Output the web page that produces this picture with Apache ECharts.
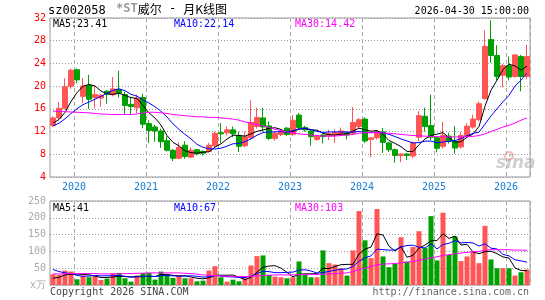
<!DOCTYPE html>
<html><head><meta charset="utf-8">
<script src="https://cdn.jsdelivr.net/npm/echarts@6/dist/echarts.min.js"></script>
<style>html,body{margin:0;padding:0;background:#fff}#c{width:545px;height:300px}</style>
</head><body><div id="c"></div>
<script>
const months = ['2019-09','2019-10','2019-11','2019-12',
'2020-01','2020-02','2020-03','2020-04','2020-05','2020-06','2020-07','2020-08','2020-09','2020-10','2020-11','2020-12',
'2021-01','2021-02','2021-03','2021-04','2021-05','2021-06','2021-07','2021-08','2021-09','2021-10','2021-11','2021-12',
'2022-01','2022-02','2022-03','2022-04','2022-05','2022-06','2022-07','2022-08','2022-09','2022-10','2022-11','2022-12',
'2023-01','2023-02','2023-03','2023-04','2023-05','2023-06','2023-07','2023-08','2023-09','2023-10','2023-11','2023-12',
'2024-01','2024-02','2024-03','2024-04','2024-05','2024-06','2024-07','2024-08','2024-09','2024-10','2024-11','2024-12',
'2025-01','2025-02','2025-03','2025-04','2025-05','2025-06','2025-07','2025-08','2025-09','2025-10','2025-11','2025-12',
'2026-01','2026-02','2026-03','2026-04'];
const opens  = [13.1,14.4,16.1,20.0,22.9,18.2,20.1,18.0,17.9,19.1,18.5,19.4,18.5,16.8,16.2,18.0,
13.4,12.8,12.1,10.4,8.7,7.3,9.6,7.5,8.8,8.5,8.5,9.5,11.8,11.8,12.3,11.2,9.5,10.9,12.9,14.4,13.0,10.8,11.5,12.6,
11.5,14.9,12.7,12.1,10.6,11.4,11.2,11.4,11.5,11.8,11.7,12.9,14.2,10.6,10.9,11.95,10.0,8.8,7.8,8.05,
7.7,11.0,14.7,13.05,10.9,9.4,11.2,10.3,9.3,11.2,12.8,14.1,17.8,28.2,25.4,21.9,23.6,21.7,25.2,21.7];
const closes = [14.4,16.1,19.9,22.8,21.1,20.0,17.7,18.5,18.4,18.6,19.5,18.8,16.6,16.4,17.9,13.3,
12.2,12.1,10.2,8.7,7.3,9.2,7.6,8.7,8.1,8.2,9.6,11.7,11.6,12.3,11.6,9.4,11.1,13.6,14.5,12.8,10.8,11.7,12.1,11.5,
14.0,12.7,12.3,11.1,11.2,11.1,11.6,11.8,12.1,11.4,13.6,14.1,10.35,10.9,12.0,10.1,8.8,7.8,8.05,7.8,
10.0,14.8,12.9,11.0,9.05,11.3,10.3,9.1,11.3,12.95,14.2,16.9,27.0,25.4,21.7,23.6,21.6,25.5,21.7,25.2];
const lows   = [12.8,14.1,15.9,19.5,20.5,17.0,16.0,16.1,16.4,16.9,18.2,18.0,15.0,15.0,15.2,12.6,
10.0,10.2,9.1,8.5,6.8,7.1,7.2,7.3,7.8,7.8,8.3,9.3,10.0,11.3,11.0,8.4,9.2,10.6,12.5,12.0,10.5,10.4,11.2,11.2,
11.2,12.3,12.0,9.5,10.4,9.9,10.5,10.0,11.2,10.6,11.4,12.5,10.0,7.5,10.6,8.25,8.4,6.5,6.6,7.0,
7.3,10.3,12.0,10.5,8.35,9.0,9.9,8.1,9.0,10.9,12.5,13.8,17.6,24.1,21.0,19.8,21.0,21.5,19.1,21.2];
const highs  = [14.7,17.2,21.4,23.1,23.1,21.4,22.0,20.1,18.6,19.3,21.6,22.7,19.0,18.0,18.5,18.6,
14.0,13.2,12.5,11.2,8.9,10.1,10.3,9.2,8.9,8.7,10.0,12.0,13.5,12.9,12.9,12.0,12.0,17.5,16.2,16.2,13.8,12.1,12.4,12.8,
14.9,15.3,13.0,12.3,11.4,11.6,12.3,12.4,12.7,12.0,16.3,14.4,14.5,11.0,12.1,12.6,10.2,9.0,8.2,8.2,
10.3,15.6,16.2,18.5,11.2,13.7,11.8,12.95,11.9,13.5,15.0,17.3,29.8,31.6,27.2,23.9,25.2,25.6,25.5,27.3];
const volumes = [32,30,43,40,17,28,23,27,15,19,35,36,20,10,28,36,
36,16,40,30,21,28,20,20,11,13,43,56,23,10,16,11,20,58,86,88,30,25,23,20,
23,70,30,23,23,103,65,61,50,28,103,220,133,80,226,85,53,63,142,70,
113,160,110,205,73,215,90,145,71,85,100,65,176,76,50,50,50,28,38,46];
// closes / volumes of the 9 months before the first candle (for MA5 / MA10 continuity)
const priorCloses = [11.5,12.0,13.5,12.8,12.7,13.0,13.6,13.2,13.3];
const priorVolumes = [90,83,60,70,57,15,8,30,15];
// MA30 lines
const ma30Price = [15.6,15.55,15.5,15.45,15.4,15.35,15.3,15.2,15.1,15.05,15.0,15.0,15.0,15.0,15.1,15.3,
15.4,15.4,15.3,15.2,15.0,14.9,14.8,14.7,14.6,14.6,14.5,14.5,14.4,14.3,14.2,14.0,13.7,13.5,13.2,13.0,12.7,12.4,12.2,11.9,
11.8,11.6,11.5,11.4,11.3,11.2,11.2,11.2,11.3,11.4,11.5,11.7,11.8,11.8,11.8,11.75,11.7,11.6,11.5,11.4,
11.3,11.25,11.2,11.15,11.1,11.1,11.05,11.05,11.05,11.1,11.15,11.3,11.6,12.0,12.4,12.8,13.1,13.5,14.0,14.42];
const ma30Vol = [33,33,33,34,34,34,34,34,33,33,33,33,34,34,35,35,
36,36,36,36,36,36,35,34,32,30,29,28,27,26,25,25,25,26,27,28,29,30,30,30,
30,31,31,31,31,32,33,34,35,36,40,46,50,55,60,62,63,64,66,68,
70,74,77,81,84,88,90,93,95,97,99,100,104,105,105,105,105,104,104,103];
const priceTicks = [4,32,4];      // min, max, interval
const volTicks = [0,250,50];
const maTextPrice = ['MA5:23.41','MA10:22.14','MA30:14.42'];
const maTextVol = ['MA5:41','MA10:67','MA30:103'];

function movingAvg(arr, prior, n){
  const all = prior.concat(arr);
  return arr.map((_, i) => {
    const j = i + prior.length;
    if (j + 1 < n) return '-';
    let s = 0; for (let k = j - n + 1; k <= j; k++) s += all[k];
    return +(s / n).toFixed(3);
  });
}
const UP = '#ff5555', DOWN = '#00a000';
const MONO = '"DejaVu Sans Mono", monospace';
const CJK = '"Noto Sans CJK SC", sans-serif';
const kData = opens.map((o, i) => [o, closes[i], lows[i], highs[i]]);
const volData = volumes.map((v, i) => ({value: v, itemStyle: {color: closes[i] >= opens[i] ? UP : DOWN}}));
const isJan = (idx, val) => String(val).endsWith('-01');

const chart = echarts.init(document.getElementById('c'), null, {renderer: 'canvas'});
const lineS = (name, data, color, xi) => ({name, type: 'line', data, xAxisIndex: xi, yAxisIndex: xi,
  symbol: 'none', silent: true, z: 5, lineStyle: {color, width: 1}, itemStyle: {color}});
chart.setOption({
  animation: false,
  grid: [
    {left: 50, top: 18, width: 480, height: 159, show: true, borderColor: '#999', borderWidth: 1},
    {left: 50, top: 201, width: 480, height: 84, show: true, borderColor: '#999', borderWidth: 1}
  ],
  xAxis: [
    {type: 'category', data: months, gridIndex: 0, boundaryGap: true,
     axisLine: {show: false}, axisTick: {show: false},
     axisLabel: {interval: isJan, formatter: v => v.slice(0, 4), color: '#1a7fd4', fontFamily: MONO, fontSize: 10, margin: 5, padding: [0, 6, 0, 0]},
     splitLine: {show: true, interval: isJan, lineStyle: {color: '#aaa', type: [4, 3], width: 1}}},
    {type: 'category', data: months, gridIndex: 1, boundaryGap: true,
     axisLine: {show: false}, axisTick: {show: false}, axisLabel: {show: false},
     splitLine: {show: true, interval: isJan, lineStyle: {color: '#aaa', type: [4, 3], width: 1}}}
  ],
  yAxis: [
    {type: 'value', gridIndex: 0, min: priceTicks[0], max: priceTicks[1], interval: priceTicks[2],
     axisLine: {show: false}, axisTick: {show: false},
     axisLabel: {color: '#ff0000', fontFamily: MONO, fontSize: 10, margin: 4},
     splitLine: {lineStyle: {color: '#999', type: [1, 2]}}},
    {type: 'value', gridIndex: 1, min: volTicks[0], max: volTicks[1], interval: volTicks[2],
     axisLine: {show: false}, axisTick: {show: false},
     axisLabel: {color: '#aaa', fontFamily: MONO, fontSize: 10, margin: 4, formatter: v => v === 0 ? 'x万' : v},
     splitLine: {lineStyle: {color: '#999', type: [1, 2]}}}
  ],
  series: [
    {type: 'candlestick', data: kData, xAxisIndex: 0, yAxisIndex: 0, barWidth: 5,
     itemStyle: {color: UP, color0: DOWN, borderColor: UP, borderColor0: DOWN, borderWidth: 1}},
    lineS('MA5', movingAvg(closes, priorCloses, 5), '#000', 0),
    lineS('MA10', movingAvg(closes, priorCloses, 10), '#0000ff', 0),
    lineS('MA30', ma30Price, '#ff00ff', 0),
    {type: 'bar', data: volData, xAxisIndex: 1, yAxisIndex: 1, barWidth: 5},
    lineS('VMA5', movingAvg(volumes, priorVolumes, 5), '#000', 1),
    lineS('VMA10', movingAvg(volumes, priorVolumes, 10), '#0000ff', 1),
    lineS('VMA30', ma30Vol, '#ff00ff', 1)
  ],
  graphic: [
    {type: 'text', left: 48, top: 5, style: {text: 'sz002058', font: '12px ' + MONO, fill: '#000'}},
    {type: 'text', left: 116, top: 3, style: {text: '{g|*ST}{b|威尔}{m| - }{b|月K线图}',
      rich: {g: {fontFamily: MONO, fontSize: 12, fontWeight: 'bold', fill: '#999'},
             m: {fontFamily: MONO, fontSize: 12, fill: '#000'},
             b: {fontFamily: CJK, fontSize: 12, fill: '#000'}}}},
    {type: 'text', right: 16, top: 6, style: {text: '2026-04-30 15:00:00', font: '10px ' + MONO, fill: '#000'}},
    {type: 'text', left: 53, top: 19, z: 10, style: {text: maTextPrice[0], font: '10px ' + MONO, fill: '#000'}},
    {type: 'text', left: 174, top: 19, z: 10, style: {text: maTextPrice[1], font: '10px ' + MONO, fill: '#0000ff'}},
    {type: 'text', left: 295, top: 19, z: 10, style: {text: maTextPrice[2], font: '10px ' + MONO, fill: '#ff00ff'}},
    {type: 'text', left: 53, top: 203, z: 10, style: {text: maTextVol[0], font: '10px ' + MONO, fill: '#000'}},
    {type: 'text', left: 174, top: 203, z: 10, style: {text: maTextVol[1], font: '10px ' + MONO, fill: '#0000ff'}},
    {type: 'text', left: 295, top: 203, z: 10, style: {text: maTextVol[2], font: '10px ' + MONO, fill: '#ff00ff'}},
    {type: 'text', left: 50, top: 287, style: {text: 'Copyright 2026 SINA.COM', font: '10px ' + MONO, fill: '#444'}},
    {type: 'text', right: 16, top: 287, style: {text: 'http://finance.sina.com.cn', font: '10px ' + MONO, fill: '#666'}},
    {type: 'text', left: 496, top: 155, z: 0, style: {text: 'sina', font: 'italic bold 17px "DejaVu Sans", sans-serif', fill: 'rgba(170,170,170,0.55)'}},
    {type: 'circle', shape: {cx: 509, cy: 156, r: 4}, z: 0, style: {fill: 'none', stroke: 'rgba(240,120,120,0.5)', lineWidth: 2}}
  ]
});
</script></body></html>
